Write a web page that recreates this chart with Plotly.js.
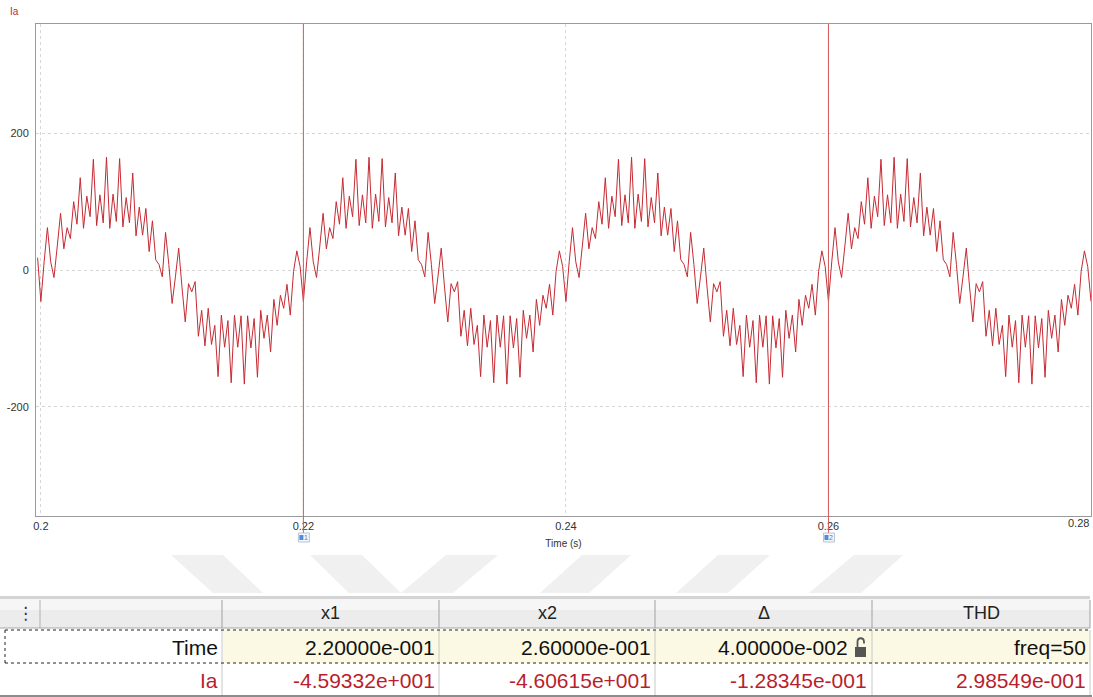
<!DOCTYPE html>
<html><head><meta charset="utf-8">
<script src="https://cdn.plot.ly/plotly-3.0.1.min.js"></script>
<style>html,body{margin:0;padding:0;background:#fff;}#chart{width:1093px;height:697px;}</style>
</head><body><div id="chart"></div>
<script>
// ---- data ----
const seriesName = 'Ia';
const tStart = 0.19975;   // time of first sample (s)
const tStep = 0.00025;    // sample spacing (s)
const iaValues = [18,
 -46,12,62,12,-11,35,83,31,62,46, 100,67,135,61,108,78,162,65,110,69, 165,61,111,71,163,63,106,69,142,50, 92,51,90,27,72,15,8,-10,55,8,
 -49,-10,32,-25,-76,-20,-32,-17,-97,-59, -111,-56,-109,-81,-156,-66,-113,-74,-165,-66, -113,-67,-167,-67,-114,-71,-157,-59,-100,-66, -120,-43,-81,-37,-56,-21,-66,-2,28,5,
 -46,12,62,12,-11,35,83,31,62,46, 100,67,135,61,108,78,162,65,110,69, 165,61,111,71,163,63,106,69,142,50, 92,51,90,27,72,15,8,-10,55,8,
 -49,-10,32,-25,-76,-20,-32,-17,-97,-59, -111,-56,-109,-81,-156,-66,-113,-74,-165,-66, -113,-67,-167,-67,-114,-71,-157,-59,-100,-66, -120,-43,-81,-37,-56,-21,-66,-2,28,5,
 -46,12,62,12,-11,35,83,31,62,46, 100,67,135,61,108,78,162,65,110,69, 165,61,111,71,163,63,106,69,142,50, 92,51,90,27,72,15,8,-10,55,8,
 -49,-10,32,-25,-76,-20,-32,-17,-97,-59, -111,-56,-109,-81,-156,-66,-113,-74,-165,-66, -113,-67,-167,-67,-114,-71,-157,-59,-100,-66, -120,-43,-81,-37,-56,-21,-66,-2,28,5,
 -46,12,62,12,-11,35,83,31,62,46, 100,67,135,61,108,78,162,65,110,69, 165,61,111,71,163,63,106,69,142,50, 92,51,90,27,72,15,8,-10,55,8,
 -49,-10,32,-25,-76,-20,-32,-17,-97,-59, -111,-56,-109,-81,-156,-66,-113,-74,-165,-66, -113,-67,-167,-67,-114,-71,-157,-59,-100,-66, -120,-43,-81,-37,-56,-21,-66,-2,28,5,
 -46];
const xTickVals = [0.2, 0.22, 0.24, 0.26];
const xEndLabel = '0.28';
const yTickVals = [-200, 0, 200];
const yTickText = ['-200', '0', '200'];
const cursorTimes = [0.22, 0.26];
const cursorLabels = ['1', '2'];
const xTitle = 'Time (s)';
const tableHeader = ['x1', 'x2', 'Δ', 'THD'];
const rowLabels = ['Time', 'Ia'];
const timeRow = ['2.20000e-001', '2.60000e-001', '4.00000e-002', 'freq=50'];
const iaRow = ['-4.59332e+001', '-4.60615e+001', '-1.28345e-001', '2.98549e-001'];

// ---- layout helpers (pixel -> paper) ----
const W = 1093, H = 697;
const px = v => v / W, py = v => 1 - v / H;
const FONT = 'Liberation Sans, Arial, sans-serif';
const RED = 'rgb(198,42,50)';
const TXTRED = 'rgb(185,30,45)';

const shapes = [];
const annotations = [];
const note = (o) => annotations.push(Object.assign({xref:'paper', yref:'paper', showarrow:false,
  xanchor:'center', yanchor:'middle'}, o));

// watermark stripes
const stripes = [
  [[171,555],[223,555],[263,593],[213,593]],
  [[310,555],[362,555],[401,593],[349,593]],
  [[446,555],[498,555],[453,593],[401,593]],
  [[582,555],[631,555],[589,593],[540,593]],
  [[718,555],[770,555],[728,593],[676,593]],
  [[854,555],[903,555],[861,593],[809,593]]
];
stripes.forEach(s => {
  shapes.push({type:'path', xref:'paper', yref:'paper', layer:'below',
    path: 'M ' + s.map(p => px(p[0]) + ',' + py(p[1])).join(' L ') + ' Z',
    fillcolor:'#f0f0f0', line:{width:0}});
});

// cursors
cursorTimes.forEach((t, i) => {
  shapes.push({type:'line', xref:'x', yref:'paper', x0:t, x1:t, y0:py(533), y1:py(24),
    line:{color:'rgb(210,90,90)', width:1}});
  shapes.push({type:'rect', xref:'x', yref:'paper', xsizemode:'pixel', xanchor:t, x0:-5, x1:6,
    y0:py(542), y1:py(533), fillcolor:'#f4f6fa', line:{color:'#b8c4d8', width:1}});
  shapes.push({type:'rect', xref:'x', yref:'paper', xsizemode:'pixel', xanchor:t, x0:-4, x1:0,
    y0:py(540), y1:py(535), fillcolor:'#4a8fd8', line:{width:0}});
  note({xref:'x', x:t, xshift:3, y:py(537.5), text:cursorLabels[i],
    font:{family:FONT, size:7, color:'#6a7a90'}});
});

// ---- table ----
const colEdges = [0, 222, 439, 655, 872, 1090];
const headBot = 628, r1Top = 630, r1Bot = 663, r2Bot = 696;
const rect = (x0,y0,x1,y1,fill,line) => shapes.push({type:'rect', xref:'paper', yref:'paper',
  x0:px(x0), x1:px(x1), y0:py(y1), y1:py(y0), fillcolor:fill, line: line || {width:0}});
const hline = (x0,x1,y,color,dash,w) => shapes.push({type:'line', xref:'paper', yref:'paper',
  x0:px(x0), x1:px(x1), y0:py(y), y1:py(y), line:{color:color, width:w||1, dash:dash||'solid'}});
const vline = (x,y0,y1,color,dash,w) => shapes.push({type:'line', xref:'paper', yref:'paper',
  x0:px(x), x1:px(x), y0:py(y0), y1:py(y1), line:{color:color, width:w||1, dash:dash||'solid'}});

rect(0, 596, 1090, 599, '#d4d4d4');
rect(0, 599, 1090, 610, '#f6f6f6');
rect(0, 610, 1090, 628, '#ececec');
hline(0, 1090, headBot, '#a8a8a8');
vline(40, 600, 628, '#b0b0b0');
for (let c = 1; c < colEdges.length; c++) vline(colEdges[c], 600, 628, '#a0a0a0');
rect(colEdges[1] + 1, r1Top, 1090, r1Bot, '#fbf9e4');
for (let c = 1; c < colEdges.length; c++) vline(colEdges[c], r1Top, r2Bot, '#c8c8c8');
hline(5, 1090, r1Top, '#222', 'dot');
hline(5, 1090, r1Bot, '#222', 'dot');
vline(5, r1Top, r1Bot, '#222', 'dot');
hline(0, 1092, r2Bot, '#666', 'solid', 1.5);

note({x:px(25), y:py(613), text:'⋮', font:{family:'DejaVu Sans', size:17, color:'#3a2a5a'}});
tableHeader.forEach((h, i) => {
  note({x:px((colEdges[i+1] + colEdges[i+2]) / 2), y:py(613), text:h,
    font:{family:FONT, size:18, color:'#222'}});
});
const TS = 21;
note({x:px(220), xanchor:'right', y:py(647), text:rowLabels[0], font:{family:FONT, size:TS, color:'#111'}});
note({x:px(220), xanchor:'right', y:py(680), text:rowLabels[1], font:{family:FONT, size:TS, color:TXTRED}});
const rightPad = [437, 653, 850, 1088];
const rightPad2 = [437, 653, 869, 1088];
timeRow.forEach((v, i) => note({x:px(rightPad[i]), xanchor:'right', y:py(647), text:v,
  font:{family:FONT, size:TS, color:'#111'}}));
iaRow.forEach((v, i) => note({x:px(rightPad2[i]), xanchor:'right', y:py(680), text:v,
  font:{family:FONT, size:TS, color:TXTRED}}));

// lock icon
rect(855, 647, 866, 657, '#555');
shapes.push({type:'path', xref:'paper', yref:'paper',
  path:`M ${px(857.5)},${py(647)} L ${px(857.5)},${py(642)} C ${px(857.5)},${py(637)} ${px(864)},${py(637)} ${px(864)},${py(642)} L ${px(864)},${py(643.5)}`,
  line:{color:'#555', width:1.8}});

// series label & end tick label
note({x:px(8), xanchor:'left', y:py(12), text:seriesName, font:{family:FONT, size:10, color:'rgb(200,30,50)'}});
note({x:px(1078), y:py(523), text:xEndLabel, font:{family:FONT, size:11, color:'#333'}});

const trace = {type:'scatter', mode:'lines', name:seriesName, y:iaValues, x0:tStart, dx:tStep,
  line:{color:RED, width:1}, hoverinfo:'x+y'};

const layout = {
  width:W, height:H, margin:{l:0, r:0, t:0, b:0}, paper_bgcolor:'#fff', plot_bgcolor:'#fff',
  showlegend:false,
  xaxis:{domain:[px(36), px(1091)], range:[0.19963, 0.28], tickvals:xTickVals, ticks:'',
    showgrid:true, gridcolor:'#d6d6d6', griddash:'dot', zeroline:false,
    showline:true, linecolor:'#9a9a9a', mirror:true,
    tickfont:{family:FONT, size:11, color:'#333'},
    title:{text:xTitle, font:{family:FONT, size:10, color:'#333'}, standoff:8}, automargin:false},
  yaxis:{domain:[py(516), py(24)], range:[-360, 360], tickvals:yTickVals, ticktext:yTickText, ticks:'',
    showgrid:true, gridcolor:'#d6d6d6', griddash:'dot', zeroline:false,
    showline:true, linecolor:'#9a9a9a', mirror:true, ticklabelstandoff:4,
    tickfont:{family:FONT, size:11, color:'#333'}, automargin:false},
  shapes:shapes, annotations:annotations
};
Plotly.newPlot('chart', [trace], layout, {displayModeBar:false, staticPlot:true});
</script></body></html>
